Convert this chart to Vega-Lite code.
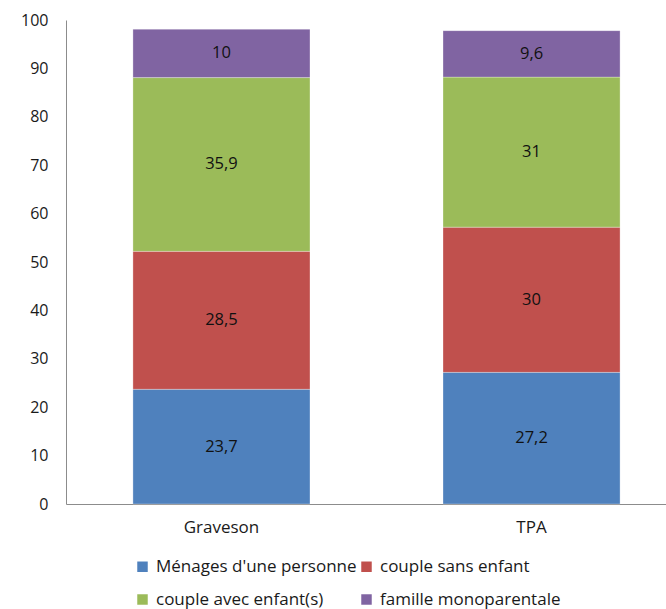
{
  "$schema": "https://vega.github.io/schema/vega-lite/v6.json",
  "width": 600,
  "height": 484,
  "autosize": {"type": "none"},
  "padding": {"left": 66, "top": 20, "right": 0, "bottom": 105},
  "background": "white",
  "config": {
    "font": "Open Sans",
    "view": {"stroke": null},
    "axis": {"labelFont": "Open Sans", "labelFontSize": 17, "labelColor": "#1a1a1a", "title": null, "grid": false, "ticks": false, "domainColor": "#8c8c8c", "domainWidth": 1}
  },
  "data": {
    "values": [
      {"commune": "Graveson", "type": "Ménages d'une personne", "ordre": 1, "part": 23.7, "label": "23,7"},
      {"commune": "Graveson", "type": "couple sans enfant", "ordre": 2, "part": 28.5, "label": "28,5"},
      {"commune": "Graveson", "type": "couple avec enfant(s)", "ordre": 3, "part": 35.9, "label": "35,9"},
      {"commune": "Graveson", "type": "famille monoparentale", "ordre": 4, "part": 10, "label": "10"},
      {"commune": "TPA", "type": "Ménages d'une personne", "ordre": 1, "part": 27.2, "label": "27,2"},
      {"commune": "TPA", "type": "couple sans enfant", "ordre": 2, "part": 30, "label": "30"},
      {"commune": "TPA", "type": "couple avec enfant(s)", "ordre": 3, "part": 31, "label": "31"},
      {"commune": "TPA", "type": "famille monoparentale", "ordre": 4, "part": 9.6, "label": "9,6"}
    ]
  },
  "transform": [
    {"stack": "part", "groupby": ["commune"], "sort": [{"field": "ordre", "order": "ascending"}], "as": ["bas", "haut"]},
    {"calculate": "(datum.bas + datum.haut) / 2", "as": "milieu"}
  ],
  "encoding": {
    "x": {
      "field": "commune",
      "type": "nominal",
      "sort": ["Graveson", "TPA"],
      "scale": {"paddingInner": 0.429, "paddingOuter": 0.182, "align": 0.593},
      "axis": {"labelAngle": 0, "labelPadding": 15}
    }
  },
  "layer": [
    {
      "mark": {"type": "bar", "stroke": "white", "strokeWidth": 0.6, "strokeOpacity": 0.5},
      "encoding": {
        "y": {
          "field": "bas",
          "type": "quantitative",
          "scale": {"domain": [0, 100], "nice": false},
          "axis": {"values": [0, 10, 20, 30, 40, 50, 60, 70, 80, 90, 100], "labelPadding": 18, "labelFontSize": 16}
        },
        "y2": {"field": "haut"},
        "color": {
          "field": "type",
          "type": "nominal",
          "sort": ["Ménages d'une personne", "couple sans enfant", "couple avec enfant(s)", "famille monoparentale"],
          "scale": {
            "domain": ["Ménages d'une personne", "couple sans enfant", "couple avec enfant(s)", "famille monoparentale"],
            "range": ["#4F81BD", "#C0504D", "#9BBB59", "#8064A2"]
          },
          "legend": {
            "title": null,
            "orient": "none",
            "legendX": 68,
            "legendY": 538,
            "direction": "horizontal",
            "columns": 2,
            "symbolType": "square",
            "symbolSize": 110,
            "symbolStrokeWidth": 0,
            "labelFont": "Open Sans",
            "labelFontSize": 17,
            "labelColor": "#1a1a1a",
            "labelLimit": 0,
            "labelOffset": 5,
            "columnPadding": 1,
            "rowPadding": 15
          }
        }
      }
    },
    {
      "mark": {"type": "text", "fontSize": 16.5, "font": "Open Sans", "color": "#111111", "baseline": "middle"},
      "encoding": {
        "y": {"field": "milieu", "type": "quantitative"},
        "text": {"field": "label"}
      }
    }
  ]
}
